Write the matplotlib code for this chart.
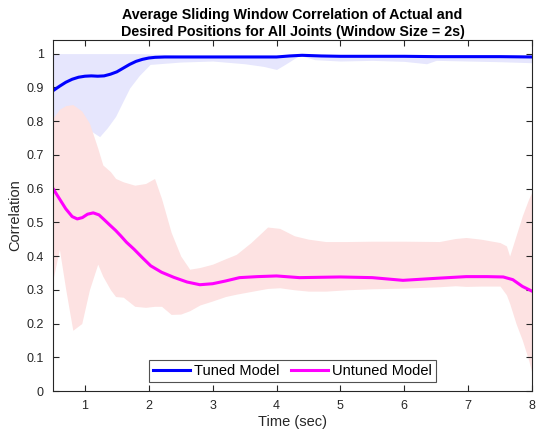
import numpy as np
import matplotlib
matplotlib.use("Agg")
import matplotlib.pyplot as plt

plt.rcParams['font.family'] = ['Liberation Sans', 'DejaVu Sans']

# Tuned model: mean correlation and band
tuned_t = [0.5, 0.6, 0.7, 0.8, 0.9, 1.0, 1.1, 1.2, 1.3, 1.4, 1.5, 1.6, 1.7, 1.8, 1.9,
           2.0, 2.1, 2.25, 2.5, 3.0, 3.5, 4.0, 4.2, 4.4, 4.7, 5.0, 5.5, 6.0, 6.5, 7.0,
           7.5, 8.0]
tuned_mean = [0.890, 0.903, 0.915, 0.924, 0.930, 0.933, 0.934, 0.933, 0.934, 0.939, 0.946,
              0.957, 0.968, 0.977, 0.983, 0.987, 0.989, 0.990, 0.990, 0.990, 0.990, 0.990,
              0.993, 0.995, 0.993, 0.992, 0.992, 0.992, 0.991, 0.991, 0.991, 0.990]
tuned_band_t = [0.5, 0.7, 0.9, 1.0, 1.1, 1.23, 1.35, 1.48, 1.6, 1.7, 1.85, 2.02, 2.5, 3.0,
                3.5, 3.8, 4.0, 4.15, 4.36, 4.6, 5.0, 5.5, 6.0, 6.35, 6.5, 7.0, 7.5, 8.0]
tuned_lower = [0.78, 0.80, 0.80, 0.79, 0.77, 0.754, 0.78, 0.814, 0.86, 0.898, 0.935, 0.968,
               0.975, 0.978, 0.970, 0.962, 0.953, 0.970, 0.995, 0.982, 0.978, 0.980, 0.977,
               0.970, 0.980, 0.978, 0.976, 0.973]
tuned_upper = [1.0, 1.0, 1.0, 1.0, 1.0, 1.0, 1.0, 1.0, 1.0, 1.0, 1.0, 0.999, 0.996, 0.996,
               0.996, 0.996, 0.996, 0.997, 0.999, 0.998, 0.997, 0.997, 0.997, 0.997, 0.997,
               0.997, 0.997, 0.996]

# Untuned model: mean correlation and band
untuned_t = [0.5, 0.6, 0.7, 0.8, 0.88, 0.96, 1.04, 1.13, 1.22, 1.3, 1.4, 1.48, 1.56, 1.65,
             1.77, 1.9, 2.03, 2.2, 2.39, 2.6, 2.8, 3.0, 3.2, 3.42, 3.7, 4.0, 4.36, 5.0, 5.5,
             5.98, 6.5, 6.97, 7.3, 7.55, 7.7, 7.85, 8.0]
untuned_mean = [0.600, 0.570, 0.540, 0.517, 0.510, 0.514, 0.524, 0.528, 0.522, 0.508, 0.490,
                0.476, 0.460, 0.441, 0.420, 0.395, 0.371, 0.352, 0.337, 0.323, 0.315, 0.318,
                0.326, 0.336, 0.339, 0.341, 0.336, 0.338, 0.336, 0.328, 0.334, 0.339, 0.339,
                0.338, 0.330, 0.310, 0.296]
untuned_band_t = [0.5, 0.6, 0.7, 0.81, 0.95, 1.07, 1.2, 1.28, 1.4, 1.48, 1.6, 1.78, 1.95,
                  2.09, 2.2, 2.35, 2.5, 2.64, 2.8, 3.0, 3.2, 3.37, 3.6, 3.86, 4.05, 4.28,
                  4.5, 4.77, 5.1, 5.5, 6.0, 6.55, 6.8, 6.97, 7.2, 7.5, 7.6, 7.65, 7.75,
                  7.85, 7.95, 8.0]
untuned_upper = [0.809, 0.835, 0.846, 0.849, 0.830, 0.794, 0.720, 0.670, 0.650, 0.630, 0.620,
                 0.610, 0.615, 0.630, 0.570, 0.470, 0.400, 0.361, 0.366, 0.376, 0.392, 0.405,
                 0.440, 0.486, 0.482, 0.460, 0.450, 0.443, 0.443, 0.444, 0.444, 0.443,
                 0.452, 0.455, 0.450, 0.440, 0.430, 0.400, 0.460, 0.520, 0.570, 0.590]
untuned_lower = [0.331, 0.420, 0.300, 0.180, 0.200, 0.300, 0.376, 0.340, 0.300, 0.280, 0.278,
                 0.251, 0.248, 0.251, 0.251, 0.227, 0.228, 0.238, 0.255, 0.267, 0.280, 0.287,
                 0.295, 0.304, 0.306, 0.300, 0.296, 0.296, 0.300, 0.303, 0.305, 0.309,
                 0.312, 0.310, 0.311, 0.311, 0.285, 0.260, 0.200, 0.150, 0.090, 0.053]

fig = plt.figure(figsize=(5.42, 4.36), dpi=100)
ax = fig.add_axes([0.0978, 0.1032, 0.8837, 0.8048])

ax.fill_between(tuned_band_t, tuned_lower, tuned_upper, color='#e6e6fd', lw=0)
ax.fill_between(untuned_band_t, untuned_lower, untuned_upper, color='#fde2e2', lw=0)
ax.plot(tuned_t, tuned_mean, color='#0000ff', lw=2.2, label='Tuned Model')
ax.plot(untuned_t, untuned_mean, color='#ff00ff', lw=2.2, label='Untuned Model')

ax.set_xlim(0.5, 8)
ax.set_ylim(0, 1.04)
ax.set_xticks(range(1, 9))
ax.set_yticks(np.arange(0, 1.01, 0.1))
ax.set_yticklabels(['0', '0.1', '0.2', '0.3', '0.4', '0.5', '0.6', '0.7', '0.8', '0.9', '1'])

gray = '#262626'
for s in ax.spines.values():
    s.set_color(gray)
    s.set_linewidth(0.8)
ax.tick_params(direction='in', top=True, right=True, length=4, width=0.8,
               colors=gray, labelsize=9, pad=6.5)

ax.set_xlabel('Time (sec)', fontsize=10.5, color=gray, labelpad=2)
ax.set_ylabel('Correlation', fontsize=10.5, color=gray, labelpad=3)
ax.set_title('Average Sliding Window Correlation of Actual and\n'
             'Desired Positions for All Joints (Window Size = 2s)',
             fontsize=10.3, fontweight='bold', pad=3, linespacing=1.3)

leg = ax.legend(loc='lower center', ncol=2, fontsize=10.5, frameon=True, fancybox=False,
                edgecolor=gray, handlelength=2.5, handletextpad=0.3, columnspacing=0.8,
                borderpad=0.28, borderaxespad=0, bbox_to_anchor=(0.5, 0.026))
leg.get_frame().set_linewidth(0.8)

fig.savefig('out.png', dpi=100)
